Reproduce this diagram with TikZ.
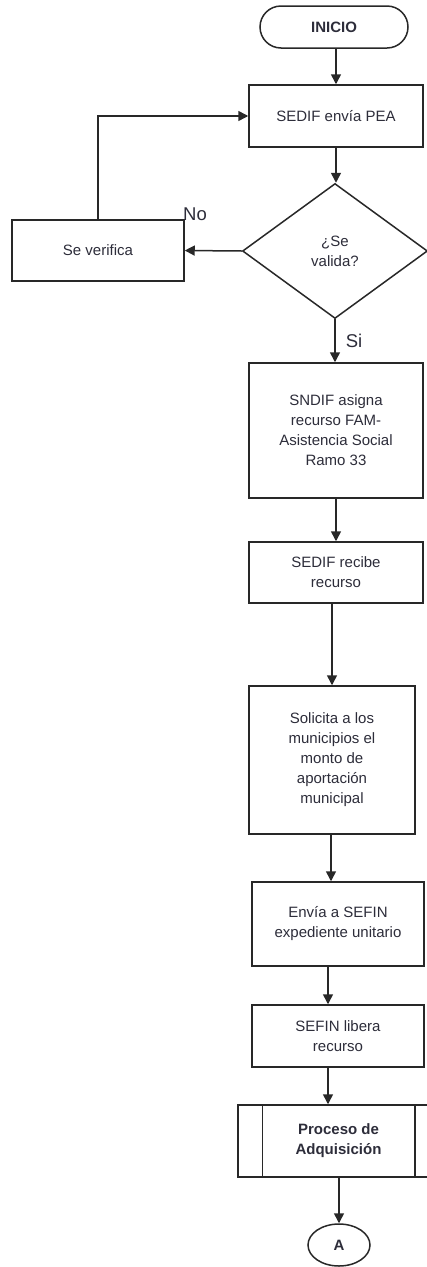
\documentclass[tikz,border=0pt]{standalone}
\usepackage{fontspec}
\setmainfont{Liberation Sans}
\usetikzlibrary{arrows.meta,shapes.geometric,shapes.misc}
\definecolor{txt}{RGB}{45,45,58}
\definecolor{ln}{RGB}{40,40,40}
\begin{document}
\begin{tikzpicture}[x=1pt,y=-1pt,
  every node/.style={text=txt,font=\fontsize{15}{20}\selectfont,align=center,inner sep=0pt},
  box/.style={draw=ln,line width=1.5pt,rectangle,fill=white},
  term/.style={draw=ln,line width=1.5pt,rounded rectangle,fill=white,font=\fontsize{15}{20}\selectfont\bfseries},
  dec/.style={draw=ln,line width=1.5pt,diamond,fill=white},
  conn/.style={draw=ln,line width=1.5pt,ellipse,fill=white,font=\fontsize{15}{20}\selectfont\bfseries},
  arr/.style={draw=ln,line width=1.5pt,-{Triangle[length=10pt,width=10pt]}},
  lbl/.style={font=\fontsize{18.5}{20}\selectfont,text=txt}
]
\useasboundingbox (0,0) rectangle (427,1267);
\fill[white] (0,0) rectangle (427,1267);

\node[term,minimum width=148pt,minimum height=42pt] (inicio) at (334,27) {INICIO};
\node[box,minimum width=174pt,minimum height=62pt] (sedif) at (336,116) {SEDIF envía PEA};
\node[dec,minimum width=185pt,minimum height=135pt] (valida) at (335,251) {¿Se\\valida?};
\node[box,minimum width=172pt,minimum height=61pt] (verif) at (98,250.5) {Se verifica};
\node[box,minimum width=174pt,minimum height=135pt] (sndif) at (336,430.5) {SNDIF asigna\\recurso FAM-\\Asistencia Social\\Ramo 33};
\node[box,minimum width=174pt,minimum height=61pt] (recibe) at (336,572.5) {SEDIF recibe\\recurso};
\node[box,minimum width=166pt,minimum height=148pt] (solicita) at (332,760) {Solicita a los\\municipios el\\monto de\\aportación\\municipal};
\node[box,minimum width=172pt,minimum height=84pt] (envia) at (338,924) {Envía a SEFIN\\expediente unitario};
\node[box,minimum width=172pt,minimum height=62pt] (sefin) at (338,1036) {SEFIN libera\\recurso};
\node[box,minimum width=201pt,minimum height=72pt,font=\fontsize{15}{20}\selectfont\bfseries] (proceso) at (338.5,1141) {Proceso de\\Adquisición};
\draw[ln,line width=1.5pt] ([xshift=25pt]proceso.north west) -- ([xshift=25pt]proceso.south west);
\draw[ln,line width=1.5pt] ([xshift=-25pt]proceso.north east) -- ([xshift=-25pt]proceso.south east);
\node[conn,minimum width=62pt,minimum height=42pt] (a) at (339,1245) {A};

\draw[arr] ([xshift=2pt]inicio.south) -- ([xshift=2pt]inicio.south |- sedif.north);
\draw[arr] (sedif.south) -- (sedif.south |- valida.north);
\draw[arr] (valida.west) -- (verif.east);
\draw[arr] (verif.north) |- (sedif.west);
\draw[arr] (valida.south) -- (valida.south |- sndif.north);
\draw[arr] (sndif.south) -- (recibe.north);
\draw[arr] (recibe.south -| solicita.north) -- (solicita.north);
\draw[arr] ([xshift=-1pt]solicita.south) -- ([xshift=-1pt]solicita.south |- envia.north);
\draw[arr] ([xshift=-10pt]envia.south) -- ([xshift=-10pt]envia.south |- sefin.north);
\draw[arr] ([xshift=-10pt]sefin.south) -- ([xshift=-10pt]sefin.south |- proceso.north);
\draw[arr] (proceso.south -| a.north) -- (a.north);

\node[lbl] (no) at (195,214) {No};
\node[lbl] (si) at (354,341) {Si};
\end{tikzpicture}
\end{document}
